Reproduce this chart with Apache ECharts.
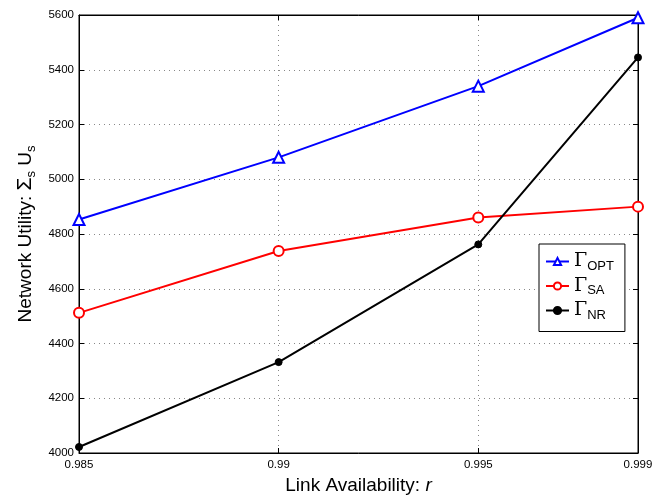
<!DOCTYPE html>
<html><head><meta charset="utf-8">
<script src="https://cdn.jsdelivr.net/npm/echarts@6/dist/echarts.min.js"></script>
<style>html,body{margin:0;padding:0;background:#fff}#c{width:671px;height:498px}</style>
</head><body><div id="c"></div>
<script>
const xValues = [0.985, 0.99, 0.995, 0.999];
const optValues = [4853, 5080, 5340, 5590];
const saValues = [4512, 4738, 4860, 4900];
const nrValues = [4022, 4332, 4762, 5445];
const yTicks = [4000, 4200, 4400, 4600, 4800, 5000, 5200, 5400, 5600];

const pair = (vals) => xValues.map((x, i) => [x, vals[i]]);
const FONT = 'Liberation Sans, Arial, sans-serif';
const chart = echarts.init(document.getElementById('c'), null, {renderer: 'canvas'});
const rich = {
  g: {fontSize: 19, fontFamily: 'DejaVu Serif, serif', color: '#000'},
  s: {fontSize: 13, fontFamily: FONT, color: '#000', verticalAlign: 'bottom', padding: [9, 0, 0, 0]}
};
chart.setOption({
  animation: false,
  backgroundColor: '#fff',
  grid: {left: 79, right: 33, top: 15, bottom: 45, show: true, borderColor: '#000', borderWidth: 1, containLabel: false, outerBoundsMode: 'none'},
  xAxis: [{
    type: 'value', min: 0.985, max: 0.999, interval: 0.005,
    name: 'Link Availability: {i|r}', nameLocation: 'middle', nameGap: 23,
    nameTextStyle: {fontSize: 19, fontFamily: FONT, color: '#000', rich: {i: {fontStyle: 'italic', fontSize: 19, fontFamily: FONT}}},
    axisLine: {show: true, lineStyle: {color: '#000'}},
    axisTick: {inside: true, length: 5, lineStyle: {color: '#000'}},
    axisLabel: {fontSize: 11.5, fontFamily: FONT, color: '#000', margin: 6, formatter: v => String(+v.toFixed(3)), showMaxLabel: true, showMinLabel: true, hideOverlap: false},
    splitLine: {show: true, lineStyle: {type: [1, 4], color: '#888'}}
  }, {
    type: 'value', position: 'top', min: 0.985, max: 0.999, interval: 0.005,
    axisLine: {show: true, lineStyle: {color: '#000'}},
    axisTick: {inside: true, length: 5, lineStyle: {color: '#000'}},
    axisLabel: {show: false}, splitLine: {show: false}
  }],
  yAxis: [{
    type: 'value', min: 4000, max: 5600, interval: 200,
    name: 'Network Utility: {g|Σ}{s|s} U{s|s}', nameLocation: 'middle', nameGap: 41,
    nameTextStyle: {fontSize: 19, fontFamily: FONT, color: '#000', rich: {g: {fontSize: 21, fontFamily: FONT}, s: {fontSize: 13, fontFamily: FONT, padding: [11, 0, 0, 0]}}},
    axisLine: {show: true, lineStyle: {color: '#000'}},
    axisTick: {inside: true, length: 5, lineStyle: {color: '#000'}},
    axisLabel: {fontSize: 11.5, fontFamily: FONT, color: '#000', margin: 5, formatter: v => String(v)},
    splitLine: {show: true, lineStyle: {type: [1, 4], color: '#888'}}
  }, {
    type: 'value', position: 'right', min: 4000, max: 5600, interval: 200,
    axisLine: {show: true, lineStyle: {color: '#000'}},
    axisTick: {inside: true, length: 5, lineStyle: {color: '#000'}},
    axisLabel: {show: false}, splitLine: {show: false}
  }],
  legend: {
    orient: 'vertical', left: 539, top: 244, padding: [8, 11, 10, 6], itemGap: 4,
    backgroundColor: '#fff', borderColor: '#000', borderWidth: 1,
    itemWidth: 23, itemHeight: 9,
    textStyle: {rich: rich, fontSize: 13},
    formatter: n => '{g|Γ}{s|' + n + '}',
    data: ['OPT', 'SA', 'NR']
  },
  series: [{
    name: 'OPT', type: 'line', data: pair(optValues),
    symbol: 'triangle', symbolSize: 11, showAllSymbol: true,
    lineStyle: {color: '#0000ff', width: 2},
    itemStyle: {color: '#fff', borderColor: '#0000ff', borderWidth: 2}
  }, {
    name: 'SA', type: 'line', data: pair(saValues),
    symbol: 'circle', symbolSize: 10,
    lineStyle: {color: '#ff0000', width: 2},
    itemStyle: {color: '#fff', borderColor: '#ff0000', borderWidth: 2}
  }, {
    name: 'NR', type: 'line', data: pair(nrValues),
    symbol: 'circle', symbolSize: 7,
    lineStyle: {color: '#000', width: 2},
    itemStyle: {color: '#000', borderColor: '#000', borderWidth: 1}
  }]
});
</script></body></html>
